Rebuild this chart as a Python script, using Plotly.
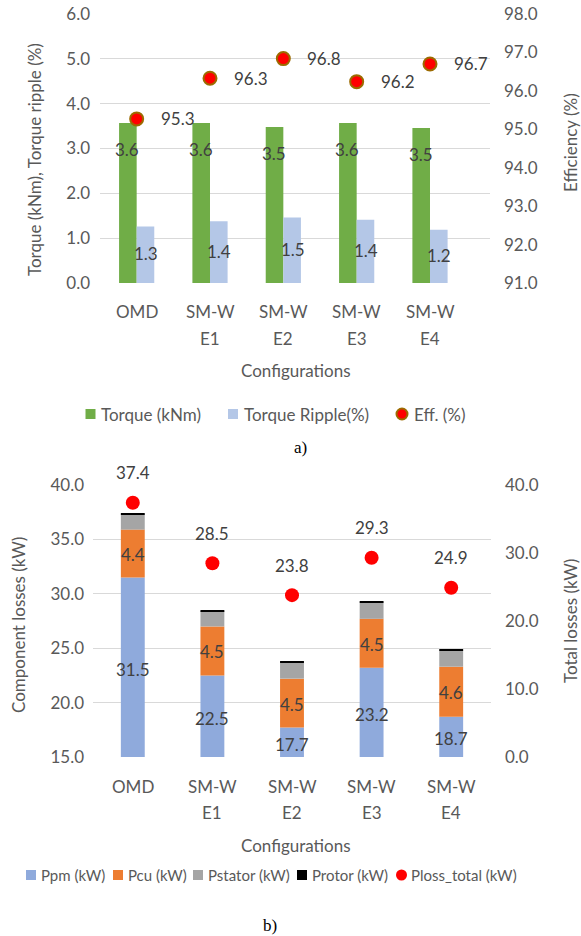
import plotly.graph_objects as go

# ---------------- data ----------------
configs = ["OMD", "SM-W E1", "SM-W E2", "SM-W E3", "SM-W E4"]
# category labels are printed on two lines: name / variant
config_lines = [["OMD"], ["SM-W", "E1"], ["SM-W", "E2"], ["SM-W", "E3"], ["SM-W", "E4"]]

# (a) torque, ripple, efficiency
torque_knm = [3.57, 3.57, 3.48, 3.57, 3.46]
torque_ripple_pct = [1.26, 1.38, 1.46, 1.41, 1.19]
efficiency_pct = [95.27, 96.33, 96.84, 96.24, 96.70]

# (b) loss breakdown
p_pm = [31.5, 22.5, 17.7, 23.2, 18.7]
p_cu = [4.4, 4.5, 4.5, 4.5, 4.6]
p_stator = [1.4, 1.4, 1.5, 1.5, 1.5]
p_rotor = [0.1, 0.1, 0.1, 0.1, 0.1]
p_loss_total = [37.4, 28.5, 23.8, 29.3, 24.9]

# ---------------- style ----------------
W, H = 581, 936
FONT = "Lato"
GREY_TXT = "#595959"
GRID = "#D9D9D9"
C_TORQUE = "#70AD47"
C_RIPPLE = "#B4C7E7"
C_EFF = "#FF0000"
C_EFF_EDGE = "#9C6B00"
C_PM = "#8FAADC"
C_CU = "#ED7D31"
C_STATOR = "#A5A5A5"
C_ROTOR = "#000000"

LOSS_RANGE = [15, 40]


def px_x(p):
    return p / W


def px_y(p):
    return 1 - p / H


fig = go.Figure()

# ----- (a) -----
fig.add_trace(go.Bar(x=configs, y=torque_knm, name="Torque (kNm)", marker_color=C_TORQUE,
                     marker_line_width=0, xaxis="x", yaxis="y", showlegend=False))
fig.add_trace(go.Bar(x=configs, y=torque_ripple_pct, name="Torque Ripple(%)", marker_color=C_RIPPLE,
                     marker_line_width=0, xaxis="x", yaxis="y", showlegend=False))
fig.add_trace(go.Scatter(x=configs, y=efficiency_pct, name="Eff. (%)", mode="markers",
                         marker=dict(size=13, color=C_EFF, line=dict(color=C_EFF_EDGE, width=2)),
                         xaxis="x", yaxis="y2", showlegend=False))

# ----- (b) -----
for vals, name, col in [(p_pm, "Ppm (kW)", C_PM), (p_cu, "Pcu (kW)", C_CU),
                        (p_stator, "Pstator (kW)", C_STATOR), (p_rotor, "Protor (kW)", C_ROTOR)]:
    fig.add_trace(go.Bar(x=configs, y=vals, name=name, marker_color=col, marker_line_width=0,
                         xaxis="x3", yaxis="y3", showlegend=False))
fig.add_trace(go.Scatter(x=configs, y=p_loss_total, name="Ploss_total (kW)", mode="markers",
                         marker=dict(size=14, color=C_EFF), xaxis="x3", yaxis="y4", showlegend=False))

tick_font = dict(family=FONT, size=17, color=GREY_TXT)
common_x = dict(type="category", showgrid=False, zeroline=False, showline=False, ticks="",
                showticklabels=False, automargin=False)
common_y = dict(showline=False, zeroline=False, ticks="", tickfont=tick_font, tickformat=".1f",
                automargin=False)

fig.update_layout(
    width=W, height=H,
    margin=dict(l=0, r=0, t=0, b=0, autoexpand=False),
    paper_bgcolor="white", plot_bgcolor="white",
    barmode="group", bargap=0.52, bargroupgap=0,
    font=dict(family=FONT, color=GREY_TXT),
    xaxis=dict(domain=[px_x(100), px_x(490)], anchor="y", **common_x),
    yaxis=dict(domain=[px_y(283), px_y(14)], range=[0, 6], dtick=1, showgrid=True,
               gridcolor=GRID, gridwidth=1.4, anchor="x", ticklabelstandoff=9, **common_y),
    yaxis2=dict(range=[91, 98], dtick=1, overlaying="y", side="right", showgrid=False,
                anchor="x", ticklabelstandoff=13, **common_y),
    xaxis3=dict(domain=[px_x(93), px_x(491)], anchor="y3", **common_x),
    yaxis3=dict(domain=[px_y(757), px_y(485)], range=LOSS_RANGE, dtick=5, showgrid=True,
                gridcolor=GRID, gridwidth=1.4, anchor="x3", ticklabelstandoff=8, **common_y),
    yaxis4=dict(range=[0, 40], dtick=10, overlaying="y3", side="right", showgrid=False,
                anchor="x3", ticklabelstandoff=13, **common_y),
)

# (b) is a stack: each loss component sits on the cumulative sum of the ones below it
base = [0.0] * len(configs)
for tr in fig.data[3:7]:
    tr.base = list(base)
    tr.offsetgroup = "loss"
    tr.width = 0.30
    base = [b + v for b, v in zip(base, tr.y)]

ann = []
lab_font = dict(family=FONT, size=17, color="#404040")

# (a) value labels
for c, v in zip(configs, torque_knm):
    ann.append(dict(x=c, y=v, xref="x", yref="y", text=f"{v:.1f}", showarrow=False,
                    xshift=-9.3, yshift=-27, font=lab_font))
for c, v in zip(configs, torque_ripple_pct):
    ann.append(dict(x=c, y=v / 2, xref="x", yref="y", text=f"{v:.1f}", showarrow=False,
                    xshift=9.3, yshift=1, font=lab_font))
for c, v in zip(configs, efficiency_pct):
    ann.append(dict(x=c, y=v, xref="x", yref="y2", text=f"{v:.1f}", showarrow=False,
                    xanchor="left", xshift=22, font=lab_font))

# (b) value labels (centred on the visible part of each segment)
for c, v in zip(configs, p_pm):
    ann.append(dict(x=c, y=(LOSS_RANGE[0] + v) / 2, xref="x3", yref="y3", text=f"{v:.1f}",
                    showarrow=False, yshift=-2, font=lab_font))
for c, b, v in zip(configs, p_pm, p_cu):
    ann.append(dict(x=c, y=b + v / 2, xref="x3", yref="y3", text=f"{v:.1f}",
                    showarrow=False, yshift=-1, font=lab_font))
for c, v in zip(configs, p_loss_total):
    ann.append(dict(x=c, y=v, xref="x3", yref="y4", text=f"{v:.1f}", showarrow=False,
                    yshift=30, font=lab_font))

# category labels under both panels (two lines, 26 px apart)
for xref, y_first in (("x", 312), ("x3", 786)):
    for c, lines in zip(configs, config_lines):
        for i, line in enumerate(lines):
            ann.append(dict(x=c, y=px_y(y_first + 26 * i), xref=xref, yref="paper", text=line,
                            showarrow=False, xanchor="center", yanchor="middle", font=tick_font))

# axis titles
title_font = dict(family=FONT, size=17, color=GREY_TXT)
for txt, x, y in [("Torque (kNm), Torque ripple (%)", 34, 160), ("Efficiency (%)", 570, 143),
                  ("Component losses (kW)", 18, 625), ("Total losses (kW)", 570, 621)]:
    ann.append(dict(x=px_x(x), y=px_y(y), xref="paper", yref="paper", text=txt, textangle=-90,
                    showarrow=False, font=title_font, xanchor="center", yanchor="middle"))
for y in (371, 845):
    ann.append(dict(x=px_x(296), y=px_y(y), xref="paper", yref="paper", text="Configurations",
                    showarrow=False, font=title_font, xanchor="center", yanchor="middle"))

# panel captions
cap_font = dict(family="Liberation Serif", size=17, color="#000000")
ann.append(dict(x=px_x(300), y=px_y(447), xref="paper", yref="paper", text="a)",
                showarrow=False, font=cap_font, xanchor="center", yanchor="middle"))
ann.append(dict(x=px_x(270), y=px_y(925), xref="paper", yref="paper", text="b)",
                showarrow=False, font=cap_font, xanchor="center", yanchor="middle"))

# legends
shapes = []


def legend_item(x_sym, x_txt, y, kind, color, text, size, edge=None):
    yy = px_y(y)
    if kind == "square":
        shapes.append(dict(type="rect", xref="paper", yref="paper", xsizemode="pixel",
                           ysizemode="pixel", xanchor=px_x(x_sym), yanchor=yy,
                           x0=-5, x1=5, y0=-5, y1=5, fillcolor=color, line_width=0))
    else:
        shapes.append(dict(type="circle", xref="paper", yref="paper", xsizemode="pixel",
                           ysizemode="pixel", xanchor=px_x(x_sym), yanchor=yy,
                           x0=-5.5, x1=5.5, y0=-5.5, y1=5.5, fillcolor=color,
                           line=dict(color=edge or color, width=2 if edge else 0)))
    ann.append(dict(x=px_x(x_txt), y=yy, xref="paper", yref="paper", text=text, showarrow=False,
                    xanchor="left", yanchor="middle",
                    font=dict(family=FONT, size=size, color=GREY_TXT)))


legend_item(90.5, 99, 414, "square", C_TORQUE, "Torque (kNm)", 17)
legend_item(233, 242, 414, "square", C_RIPPLE, "Torque Ripple(%)", 17)
legend_item(402, 412, 414, "circle", C_EFF, "Eff. (%)", 17, edge=C_EFF_EDGE)

legend_item(31, 39, 875, "square", C_PM, "Ppm (kW)", 15)
legend_item(118, 126, 875, "square", C_CU, "Pcu (kW)", 15)
legend_item(198, 206, 875, "square", C_STATOR, "Pstator (kW)", 15)
legend_item(302, 310, 875, "square", C_ROTOR, "Protor (kW)", 15)
legend_item(401.5, 409, 875, "circle", C_EFF, "Ploss_total (kW)", 15)

fig.update_layout(annotations=ann, shapes=shapes)

fig.write_html("out.html")
